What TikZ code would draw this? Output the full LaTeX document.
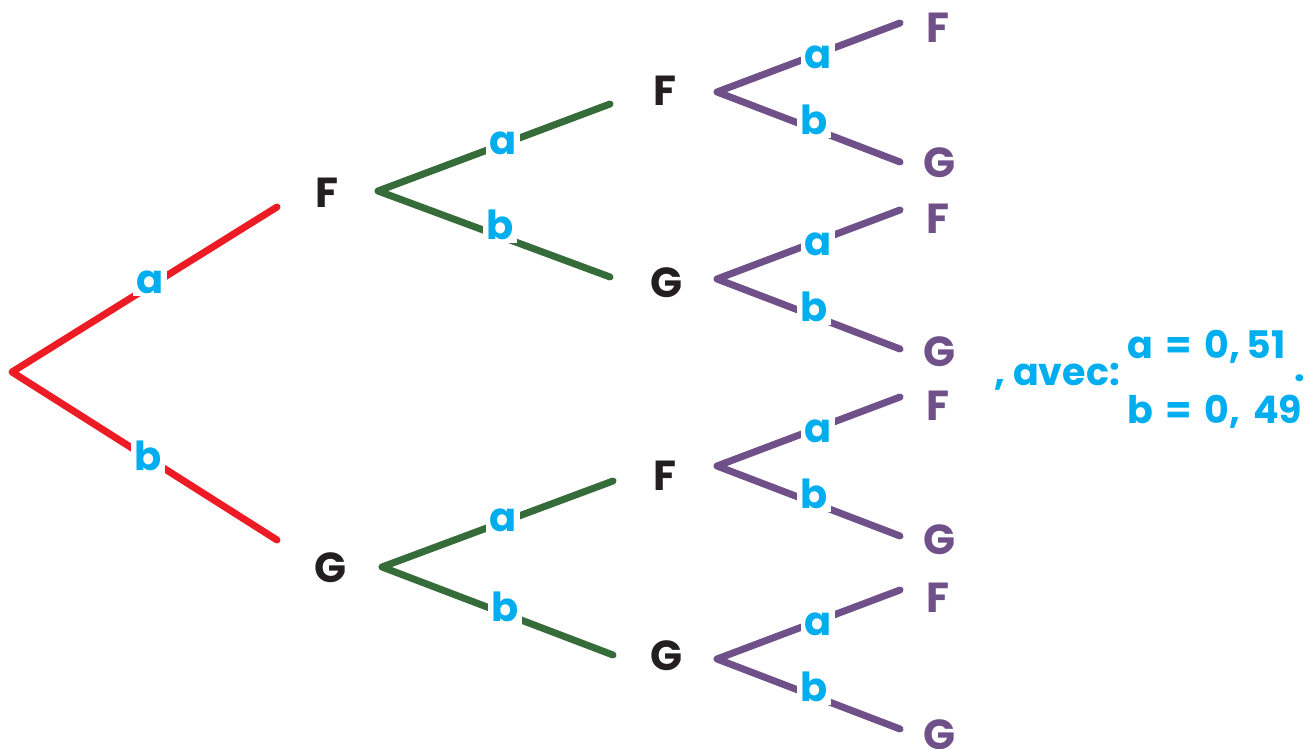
\documentclass[tikz,border=0pt]{standalone}
\usepackage{fontspec}
\setmainfont{Poppins}
\definecolor{cred}{HTML}{ED1C24}
\definecolor{cgreen}{HTML}{366B3A}
\definecolor{cpurple}{HTML}{6F5089}
\definecolor{cblue}{HTML}{00AEEF}
\definecolor{cblack}{HTML}{231F20}
\tikzset{
  br/.style={line width=7pt,line cap=round,line join=round},
  lvl/.style={text=cblack,font=\fontsize{42}{42}\selectfont\bfseries,inner sep=0pt},
  leaf/.style={text=cpurple,font=\fontsize{42}{42}\selectfont\bfseries,inner sep=0pt},
  lab/.style={text=cblue,fill=white,font=\fontsize{40}{40}\selectfont\bfseries,inner sep=3pt},
  note/.style={text=cblue,font=\fontsize{38}{38}\selectfont\bfseries,inner sep=0pt,anchor=base west}
}
\begin{document}
\begin{tikzpicture}[x=1pt,y=-1pt]
\useasboundingbox (0,0) rectangle (1307,749);
% root
\coordinate (r) at (12,372);
\coordinate (r1) at (277,207);
\coordinate (r2) at (277,540);
\node[lvl] (F1) at (327,193) {F};
\node[lvl] (G1) at (330,568) {G};
\draw[br,cred] (r1) -- (r) -- (r2);
\node[lab] (ra) at (150,282) {a};
\node[lab] (rb) at (148,456) {b};
% green groups
\coordinate (gF) at (378,191);
\coordinate (gF1) at (610,104);
\coordinate (gF2) at (610,277);
\draw[br,cgreen] (gF1) -- (gF) -- (gF2);
\node[lab] (gFa) at (503,143) {a};
\node[lab] (gFb) at (500,225) {b};
\coordinate (gG) at (382,567);
\coordinate (gG1) at (613,481);
\coordinate (gG2) at (613,655);
\draw[br,cgreen] (gG1) -- (gG) -- (gG2);
\node[lab] (gGa) at (503,520) {a};
\node[lab] (gGb) at (505,607) {b};
% level 2
\node[lvl] (F21) at (665,91) {F};
\node[lvl] (G21) at (666,283) {G};
\node[lvl] (F22) at (665,476) {F};
\node[lvl] (G22) at (666,656) {G};
% purple groups
\foreach \i/\ap/\fy/\gy in {1/92/28/163, 2/279/219/352, 3/466/406/540, 4/659/598/735}{
  \coordinate (p\i) at (717,\ap);
  \coordinate (p\i u) at (900,\ap-69);
  \coordinate (p\i d) at (900,\ap+70);
  \draw[br,cpurple] (p\i u) -- (p\i) -- (p\i d);
  \node[lab] (p\i a) at (818,\ap-35) {a};
  \node[lab] (p\i b) at (814,\ap+28) {b};
  \node[leaf] (L\i F) at (938,\fy) {F};
  \node[leaf] (L\i G) at (939,\gy) {G};
}
% note
\node[note] (avec) at (994,385) {, avec:};
\node[note] (na) at (1127,358) {a\,\,=\,\,0,\,51};
\node[note] (nb) at (1127,423) {b\,\,=\,\,0,\,\,49};
\node[text=cblue,font=\fontsize{38}{38}\selectfont\bfseries,inner sep=0pt] (dot) at (1300,378) {.};
\end{tikzpicture}
\end{document}
